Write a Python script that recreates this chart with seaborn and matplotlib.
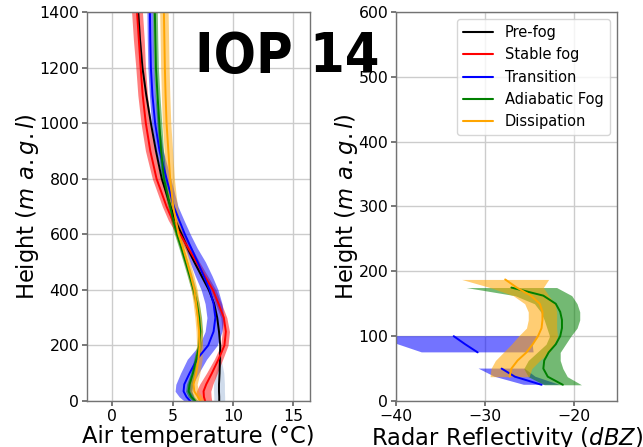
import numpy as np
import pandas as pd
import matplotlib
matplotlib.use("Agg")
import matplotlib.pyplot as plt
from matplotlib.lines import Line2D
import seaborn as sns

# ---------------- data ----------------
phases = ["Pre-fog", "Stable fog", "Transition", "Adiabatic Fog", "Dissipation"]
phase_colors = ["black", "red", "blue", "green", "orange"]
band_colors = ["lightsteelblue", "red", "blue", "green", "orange"]

# Air temperature profiles (left panel)
heights_T = [0, 15, 35, 60, 100, 150, 200, 250, 300, 350, 400, 450, 500, 550,
             600, 650, 700, 800, 900, 1000, 1100, 1200, 1300, 1400]
temp_prefog = [8.87, 8.87, 8.85, 8.85, 8.9, 8.93, 8.95, 8.85, 8.7, 8.45, 8.0, 7.4, 6.8, 6.25,
               5.75, 5.22, 4.83, 4.1, 3.62, 3.2, 2.82, 2.5, 2.3, 2.15]
temp_stable = [7.7, 7.6, 7.57, 7.79, 8.26, 8.81, 9.3, 9.42, 9.25, 8.81, 8.34, 7.66, 6.98, 6.3,
               5.63, 5.0, 4.5, 3.67, 3.15, 2.78, 2.52, 2.35, 2.2, 2.05]
temp_transition = [6.46, 6.15, 5.91, 5.97, 6.41, 7.02, 7.95, 8.4, 8.55, 8.4, 8.07, 7.58, 7.08, 6.55,
                   6.02, 5.55, 5.1, 4.5, 3.92, 3.55, 3.33, 3.2, 3.15, 3.12]
temp_adiabatic = [6.88, 6.55, 6.33, 6.41, 6.69, 6.96, 7.22, 7.3, 7.2, 7.02, 6.74, 6.42, 6.08, 5.73,
                  5.36, 5.05, 4.8, 4.28, 4.05, 3.9, 3.75, 3.62, 3.57, 3.53]
temp_dissipation = [7.29, 7.1, 6.8, 6.74, 6.96, 7.15, 7.24, 7.2, 7.1, 6.96, 6.8, 6.52, 6.2, 5.87,
                    5.5, 5.27, 5.05, 4.8, 4.65, 4.5, 4.42, 4.36, 4.32, 4.28]

std_prefog = [0.45, 0.45, 0.45, 0.45, 0.35, 0.1, 0.05, 0.05, 0.05, 0.05, 0.05, 0.05, 0.05, 0.05,
              0.05, 0.05, 0.05, 0.05, 0.05, 0.05, 0.05, 0.05, 0.05, 0.05]
std_stable = [0.55, 0.6, 0.6, 0.55, 0.45, 0.35, 0.3, 0.3, 0.25, 0.25, 0.25, 0.25, 0.25, 0.3,
              0.3, 0.35, 0.35, 0.35, 0.4, 0.4, 0.4, 0.4, 0.45, 0.45]
std_transition = [0.5, 0.6, 0.7, 0.7, 0.75, 0.8, 0.75, 0.7, 0.7, 0.7, 0.7, 0.7, 0.65, 0.5,
                  0.45, 0.4, 0.35, 0.35, 0.3, 0.3, 0.25, 0.25, 0.25, 0.25]
std_adiabatic = [0.25, 0.25, 0.25, 0.25, 0.2, 0.2, 0.2, 0.2, 0.2, 0.2, 0.2, 0.2, 0.2, 0.2,
                 0.2, 0.2, 0.2, 0.2, 0.2, 0.2, 0.2, 0.2, 0.2, 0.2]
std_dissipation = [0.35, 0.35, 0.35, 0.3, 0.3, 0.3, 0.25, 0.25, 0.25, 0.25, 0.25, 0.25, 0.25, 0.25,
                   0.3, 0.35, 0.35, 0.35, 0.35, 0.35, 0.35, 0.35, 0.35, 0.35]

# Radar reflectivity profiles (right panel)
nan = np.nan
heights_Z = [187.5, 175, 162.5, 150, 137.5, 125, 112.5, 100, 87.5, 75, 62.5, 50, 37.5, 25]
refl_transition = [nan, nan, nan, nan, nan, nan, nan, -33.5, -32.2, -30.8, nan, -28.1, -26.6, -23.6]
refl_adiabatic = [nan, -27.0, -23.4, -22.0, -21.5, -21.3, -21.3, -21.5, -22.0, -22.8, -23.3, -23.4, -22.9, -21.2]
refl_dissipation = [-27.7, -26.4, -24.8, -23.8, -23.5, -23.5, -23.6, -24.0, -24.6, -25.3, -26.3, -27.0, -27.2, nan]
rstd_transition = [nan, nan, nan, nan, nan, nan, nan, 9.4, 7.6, 6.3, nan, 2.6, 2.3, 2.0]
rstd_adiabatic = [nan, 5.1, 3.2, 2.4, 2.2, 2.0, 1.7, 1.2, 1.1, 1.3, 1.8, 2.2, 2.2, 2.1]
rstd_dissipation = [4.9, 3.0, 2.0, 1.7, 1.6, 1.6, 1.7, 2.2, 2.4, 2.6, 2.5, 2.3, 2.2, nan]

# ---------------- style ----------------
sns.set_theme(style="ticks")
plt.rcParams["font.family"] = ["DejaVu Sans"]
plt.rcParams["mathtext.fontset"] = "dejavusans"
plt.rcParams["text.color"] = "black"
plt.rcParams["axes.labelcolor"] = "black"
plt.rcParams["xtick.color"] = "black"
plt.rcParams["ytick.color"] = "black"

fig = plt.figure(figsize=(6.43, 4.47), dpi=100)
ax1 = fig.add_axes([87 / 643, 46 / 447, 223 / 643, 389 / 447])
ax2 = fig.add_axes([396 / 643, 46 / 447, 221 / 643, 389 / 447])

LW = 1.4

# ---------------- left panel ----------------
temps = [temp_prefog, temp_stable, temp_transition, temp_adiabatic, temp_dissipation]
stds = [std_prefog, std_stable, std_transition, std_adiabatic, std_dissipation]
H = np.array(heights_T, dtype=float)
for name, t, s, c, bc in zip(phases, temps, stds, phase_colors, band_colors):
    t = np.array(t, dtype=float)
    s = np.array(s, dtype=float)
    ax1.fill_betweenx(H, t - s, t + s, color=bc, alpha=0.5 if bc != "lightsteelblue" else 0.6, lw=0)
    df = pd.DataFrame({"T": t, "h": H})
    sns.lineplot(data=df, x="T", y="h", orient="y", sort=True, color=c, lw=LW,
                 errorbar=None, estimator=None, ax=ax1)

ax1.set_xlim(-2.1, 16.4)
ax1.set_ylim(0, 1400)
ax1.set_xticks([0, 5, 10, 15])
ax1.set_yticks(range(0, 1401, 200))
ax1.set_xlabel("Air temperature (°C)", fontsize=16.3, labelpad=1)
ax1.set_ylabel(r"Height ($m\ a.g.l$)", fontsize=16.3, labelpad=-1)

# ---------------- right panel ----------------
HZ = np.array(heights_Z, dtype=float)
refls = [refl_transition, refl_adiabatic, refl_dissipation]
rstds = [rstd_transition, rstd_adiabatic, rstd_dissipation]
rcols = ["blue", "green", "orange"]
for r, s, c in zip(refls, rstds, rcols):
    r = np.array(r, dtype=float)
    s = np.array(s, dtype=float)
    ax2.fill_betweenx(HZ, r - s, r + s, color=c, alpha=0.55, lw=0)
    valid = ~np.isnan(r)
    seg = np.cumsum(~valid)
    for k in np.unique(seg[valid]):
        m = valid & (seg == k)
        if m.sum() < 2:
            continue
        df = pd.DataFrame({"Z": r[m], "h": HZ[m]})
        sns.lineplot(data=df, x="Z", y="h", orient="y", sort=True, color=c, lw=LW,
                     errorbar=None, estimator=None, ax=ax2)

ax2.set_xlim(-40, -15.1)
ax2.set_ylim(0, 600)
ax2.set_xticks([-40, -30, -20])
ax2.set_yticks(range(0, 601, 100))
ax2.set_xlabel(r"Radar Reflectivity ($dBZ$)", fontsize=16.3, labelpad=1)
ax2.set_ylabel(r"Height ($m\ a.g.l$)", fontsize=16.3, labelpad=-1)

handles = [Line2D([0], [0], color=c, lw=1.5) for c in phase_colors]
ax2.legend(handles, phases, loc="upper right", fontsize=10.5, frameon=True,
           handlelength=2.1, labelspacing=0.5)

for ax in (ax1, ax2):
    ax.grid(True, color="0.8", lw=1.0)
    ax.set_axisbelow(True)
    ax.tick_params(labelsize=11.3, length=3.5, color="0.4", pad=2)
    for sp in ax.spines.values():
        sp.set_visible(True)
        sp.set_color("0.45")
        sp.set_linewidth(1.0)

fig.text(0.447, 0.8396, "IOP 14", fontsize=40, fontweight="bold",
         fontstretch="condensed", ha="center", va="baseline", family="DejaVu Sans",
         color="black")

fig.savefig("out.png", dpi=100)
